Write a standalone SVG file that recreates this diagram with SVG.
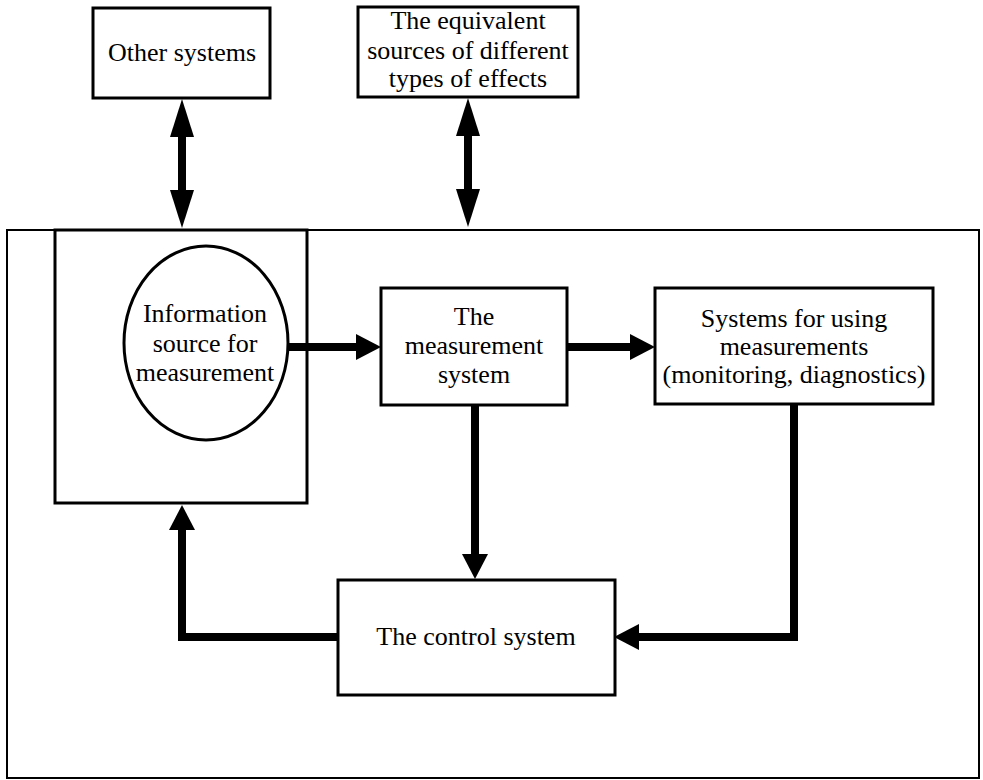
<svg xmlns="http://www.w3.org/2000/svg" width="983" height="780" viewBox="0 0 983 780">
  <style>
    .box { fill: #fff; stroke: #000; stroke-width: 3; }
    .frame { fill: none; stroke: #000; stroke-width: 2; }
    .label { font-family: "Liberation Serif", "Times New Roman", serif; font-size: 26px; fill: #000; text-anchor: middle; }
    .conn { fill: none; stroke: #000; stroke-width: 8; stroke-linejoin: miter; }
    .arrow { marker-end: url(#head); }
    .both { marker-start: url(#headLong); marker-end: url(#headLong); }
  </style>
  <defs>
    <marker id="head" viewBox="0 0 25 26" markerUnits="userSpaceOnUse" markerWidth="25" markerHeight="26" refX="1" refY="13" orient="auto-start-reverse">
      <path d="M0,0 L25,13 L0,26 Z" fill="#000"/>
    </marker>
    <marker id="headLong" viewBox="0 0 38 24" markerUnits="userSpaceOnUse" markerWidth="38" markerHeight="24" refX="1" refY="12" orient="auto-start-reverse">
      <path d="M0,0 L38,12 L0,24 Z" fill="#000"/>
    </marker>
  </defs>

  <rect width="983" height="780" fill="#fff"/>

  <!-- enclosing system boundary -->
  <rect id="boundary" class="frame" x="7" y="230" width="972" height="548"/>

  <g id="other-systems">
    <rect class="box" x="93" y="8" width="177" height="90"/>
    <text class="label" x="182" y="61">Other systems</text>
  </g>

  <g id="equivalent-sources">
    <rect class="box" x="358" y="7" width="220" height="90"/>
    <text class="label" x="468" y="29">The equivalent</text>
    <text class="label" x="468" y="59">sources of different</text>
    <text class="label" x="468" y="87">types of effects</text>
  </g>

  <g id="source-block">
    <rect class="box" x="55" y="230" width="252" height="273"/>
    <ellipse class="box" cx="206" cy="343" rx="82" ry="97"/>
    <text class="label" x="205" y="322">Information</text>
    <text class="label" x="205" y="352">source for</text>
    <text class="label" x="205" y="381">measurement</text>
  </g>

  <g id="measurement-system">
    <rect class="box" x="381" y="288" width="186" height="117"/>
    <text class="label" x="474" y="325">The</text>
    <text class="label" x="474" y="354">measurement</text>
    <text class="label" x="474" y="383">system</text>
  </g>

  <g id="using-systems">
    <rect class="box" x="655" y="288" width="278" height="116"/>
    <text class="label" x="794" y="327">Systems for using</text>
    <text class="label" x="794" y="355">measurements</text>
    <text class="label" x="794" y="383">(monitoring, diagnostics)</text>
  </g>

  <g id="control-system">
    <rect class="box" x="338" y="580" width="277" height="115"/>
    <text class="label" x="476" y="645">The control system</text>
  </g>

  <g id="connectors">
    <line class="conn both" x1="182" y1="136" x2="182" y2="191"/>
    <line class="conn both" x1="468" y1="135" x2="468" y2="190"/>
    <line class="conn arrow" x1="288" y1="347" x2="357" y2="347"/>
    <line class="conn arrow" x1="567" y1="347" x2="631" y2="347"/>
    <line class="conn arrow" x1="475" y1="405" x2="475" y2="555"/>
    <path class="conn arrow" d="M794,404 V637 H638"/>
    <path class="conn arrow" d="M338,637 H182 V529"/>
  </g>
</svg>
